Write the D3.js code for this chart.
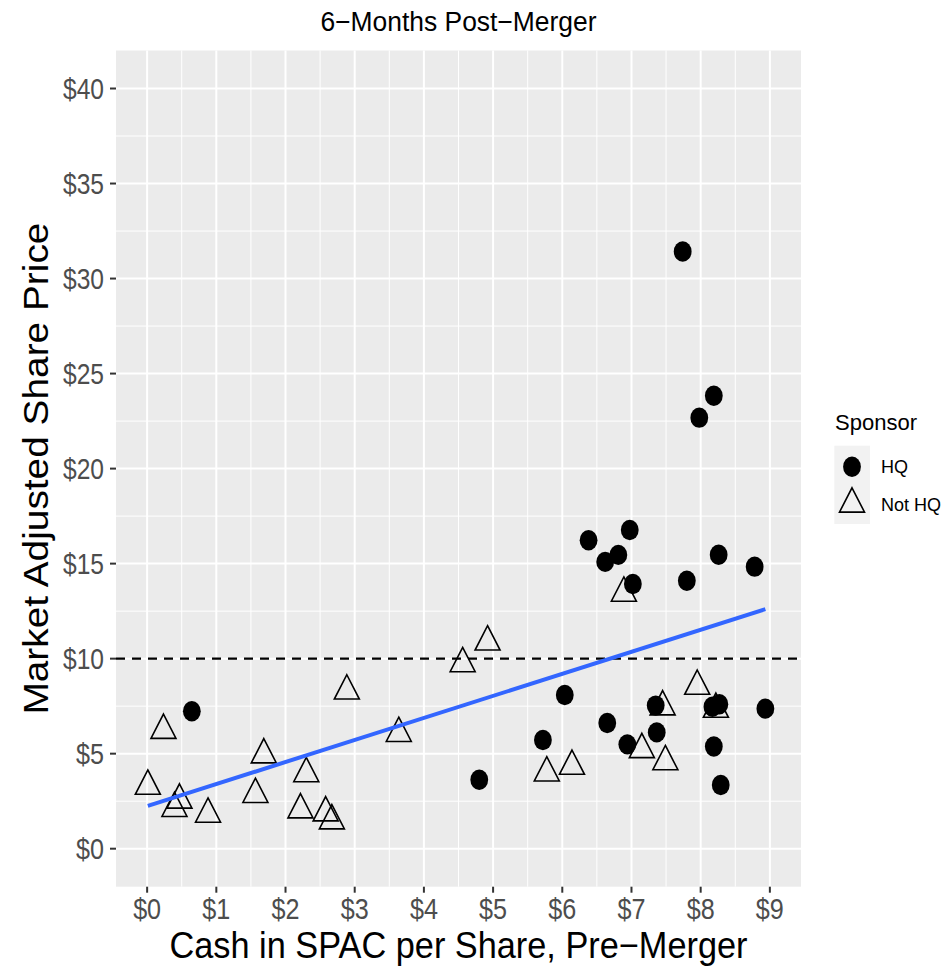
<!DOCTYPE html>
<html>
<head>
<meta charset="utf-8">
<script src="https://cdnjs.cloudflare.com/ajax/libs/d3/7.8.5/d3.min.js"></script>
<style>
  html, body { margin: 0; padding: 0; background: #ffffff; }
  svg { display: block; }
  text { font-family: "Liberation Sans", Arial, Helvetica, sans-serif; }
</style>
</head>
<body>
<svg id="chart" width="952" height="969"></svg>
<script>
// Cash per share (x) and 6-month adjusted share price (y), by sponsor group
const hqCash  = [0.646, 4.80, 6.036, 5.72, 6.65, 6.94, 7.35, 7.365, 8.17, 8.27, 8.19, 8.29,
                 8.935, 6.38, 6.975, 6.81, 6.62, 7.02, 7.80, 8.26, 8.78, 7.74, 8.19, 7.98];
const hqPrice = [7.23, 3.63, 8.09, 5.72, 6.61, 5.49, 7.53, 6.12, 7.47, 7.60, 5.38, 3.35,
                 7.37, 16.23, 16.77, 15.46, 15.09, 13.93, 14.10, 15.47, 14.84, 31.42, 23.83, 22.68];
const notHqCash  = [0.236, 0.01, 0.467, 0.395, 0.88, 1.686, 1.565, 2.30, 2.216, 2.58, 2.67, 2.886,
                    3.637, 4.56, 4.92, 5.776, 6.14, 7.15, 7.45, 7.49, 7.95, 8.22, 6.89];
const notHqPrice = [6.23, 3.29, 2.56, 2.12, 1.82, 4.94, 2.86, 3.95, 2.05, 1.89, 1.47, 8.30,
                    6.07, 9.74, 10.88, 3.99, 4.34, 5.22, 7.47, 4.58, 8.55, 7.34, 13.45];

const sponsorGroups = ["HQ", "Not HQ"];
const xTickValues = [0, 1, 2, 3, 4, 5, 6, 7, 8, 9];
const yTickValues = [0, 5, 10, 15, 20, 25, 30, 35, 40];
const referencePrice = 10;

const titleText = "6\u2212Months Post\u2212Merger";
const xTitleText = "Cash in SPAC per Share, Pre\u2212Merger";
const yTitleText = "Market Adjusted Share Price";
const legendTitle = "Sponsor";

const points = [
  ...hqCash.map((c, i) => ({ x: c, y: hqPrice[i], g: "HQ" })),
  ...notHqCash.map((c, i) => ({ x: c, y: notHqPrice[i], g: "Not HQ" }))
];

// Panel geometry
const panel = { left: 116, right: 801, top: 50.5, bottom: 886.7 };
const x = d3.scaleLinear().domain([-0.45, 9.45]).range([panel.left, panel.right]);
const y = d3.scaleLinear().domain([-2, 42]).range([panel.bottom, panel.top]);

const svg = d3.select("#chart");
svg.append("rect").attr("width", 952).attr("height", 969).attr("fill", "#ffffff");

// Text helper: fixed rendered width to mimic the narrow face
function label(parent, txt, o) {
  const t = parent.append("text")
    .attr("x", o.x).attr("y", o.y)
    .attr("font-size", o.size)
    .attr("fill", o.fill || "#000000")
    .attr("text-anchor", o.anchor || "start")
    .text(txt);
  if (o.len) t.attr("textLength", o.len).attr("lengthAdjust", "spacingAndGlyphs");
  if (o.rotate) t.attr("transform", `rotate(${o.rotate},${o.x},${o.y})`);
  return t;
}

// Panel background
svg.append("rect")
  .attr("x", panel.left).attr("y", panel.top)
  .attr("width", panel.right - panel.left).attr("height", panel.bottom - panel.top)
  .attr("fill", "#EBEBEB");

const grid = svg.append("g");
const xMinor = d3.range(0.5, 9, 1);
const yMinor = d3.range(2.5, 40, 5);
grid.selectAll(".xminor").data(xMinor).join("line")
  .attr("x1", d => x(d)).attr("x2", d => x(d))
  .attr("y1", panel.top).attr("y2", panel.bottom)
  .attr("stroke", "#ffffff").attr("stroke-width", 1);
grid.selectAll(".yminor").data(yMinor).join("line")
  .attr("y1", d => y(d)).attr("y2", d => y(d))
  .attr("x1", panel.left).attr("x2", panel.right)
  .attr("stroke", "#ffffff").attr("stroke-width", 1);
grid.selectAll(".xmajor").data(xTickValues).join("line")
  .attr("x1", d => x(d)).attr("x2", d => x(d))
  .attr("y1", panel.top).attr("y2", panel.bottom)
  .attr("stroke", "#ffffff").attr("stroke-width", 2);
grid.selectAll(".ymajor").data(yTickValues).join("line")
  .attr("y1", d => y(d)).attr("y2", d => y(d))
  .attr("x1", panel.left).attr("x2", panel.right)
  .attr("stroke", "#ffffff").attr("stroke-width", 2);

// $10 reference line
svg.append("line")
  .attr("x1", panel.left).attr("x2", panel.right)
  .attr("y1", y(referencePrice)).attr("y2", y(referencePrice))
  .attr("stroke", "#000000").attr("stroke-width", 2.2)
  .attr("stroke-dasharray", "9,7");

// Marker shapes
const rx = 8.9, ry = 10.2;
const triHalf = 12.5, triUp = 16.2, triDown = 8.1;
function triPath(cx, cy) {
  return `M${cx},${cy - triUp}L${cx + triHalf},${cy + triDown}L${cx - triHalf},${cy + triDown}Z`;
}

const pts = svg.append("g");
pts.selectAll("path.tri").data(points.filter(d => d.g === "Not HQ")).join("path")
  .attr("class", "tri")
  .attr("d", d => triPath(x(d.x), y(d.y)))
  .attr("fill", "none").attr("stroke", "#000000").attr("stroke-width", 1.6)
  .attr("stroke-linejoin", "miter");
pts.selectAll("ellipse.hq").data(points.filter(d => d.g === "HQ")).join("ellipse")
  .attr("class", "hq")
  .attr("cx", d => x(d.x)).attr("cy", d => y(d.y))
  .attr("rx", rx).attr("ry", ry)
  .attr("fill", "#000000");

// Least-squares fit over all points, drawn across the observed x range
const mx = d3.mean(points, d => d.x), my = d3.mean(points, d => d.y);
const sxy = d3.sum(points, d => (d.x - mx) * (d.y - my));
const sxx = d3.sum(points, d => (d.x - mx) ** 2);
const slope = sxy / sxx, intercept = my - slope * mx;
const xExt = d3.extent(points, d => d.x);
const fit = xExt.map(v => ({ x: v, y: intercept + slope * v }));
svg.append("path")
  .datum(fit)
  .attr("d", d3.line().x(d => x(d.x)).y(d => y(d.y)))
  .attr("fill", "none").attr("stroke", "#3366FF").attr("stroke-width", 4);

// Axes: tick marks
const axisColor = "#333333", tickText = "#4D4D4D";
svg.append("g").selectAll("line").data(xTickValues).join("line")
  .attr("x1", d => x(d)).attr("x2", d => x(d))
  .attr("y1", panel.bottom).attr("y2", panel.bottom + 6)
  .attr("stroke", axisColor).attr("stroke-width", 2);
svg.append("g").selectAll("line").data(yTickValues).join("line")
  .attr("y1", d => y(d)).attr("y2", d => y(d))
  .attr("x1", panel.left - 6).attr("x2", panel.left)
  .attr("stroke", axisColor).attr("stroke-width", 2);

// Tick labels
const fmt = d => "$" + d;
const xl = svg.append("g");
xTickValues.forEach(v => label(xl, fmt(v), { x: x(v), y: 919, size: 30, anchor: "middle", fill: tickText, len: 28 }));
const yl = svg.append("g");
yTickValues.forEach(v => {
  const s = fmt(v);
  label(yl, s, { x: 104, y: y(v) + 10.5, size: 30, anchor: "end", fill: tickText, len: s.length === 2 ? 28 : 41 });
});

// Titles
label(svg, titleText, { x: (panel.left + panel.right) / 2, y: 31, size: 27, anchor: "middle", len: 276 });
label(svg, xTitleText, { x: (panel.left + panel.right) / 2, y: 958, size: 37, anchor: "middle", len: 578 });
label(svg, yTitleText, { x: 48, y: (panel.top + panel.bottom) / 2, size: 35, anchor: "middle", len: 492, rotate: -90 });

// Legend
const lg = svg.append("g");
label(lg, legendTitle, { x: 835, y: 430, size: 22, len: 82 });
lg.append("rect").attr("x", 834.3).attr("y", 445.7).attr("width", 35.7).attr("height", 78.3).attr("fill", "#F2F2F2");
const keyY = { "HQ": 466.7, "Not HQ": 504 };
lg.append("ellipse").attr("cx", 852).attr("cy", keyY["HQ"]).attr("rx", rx).attr("ry", ry).attr("fill", "#000000");
lg.append("path").attr("d", triPath(852, keyY["Not HQ"]))
  .attr("fill", "none").attr("stroke", "#000000").attr("stroke-width", 1.6);
sponsorGroups.forEach(g => {
  label(lg, g, { x: 881, y: keyY[g] + 6.5, size: 18.5, len: g === "HQ" ? 27 : 60 });
});
</script>
</body>
</html>
